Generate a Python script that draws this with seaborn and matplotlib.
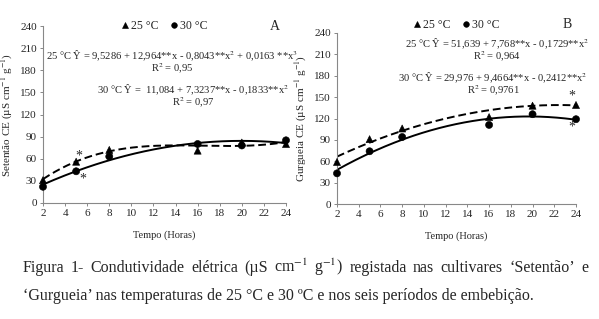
import numpy as np
import pandas as pd
import matplotlib
matplotlib.use('Agg')
import matplotlib.pyplot as plt
from matplotlib import font_manager
import seaborn as sns

# dados
horas = [2, 5, 8, 16, 20, 24]
setentao_25 = [31, 56, 72, 71, 82, 80]
setentao_30 = [22, 43, 63, 80, 78, 85]
gurgueia_25 = [59, 91, 106, 122, 138, 139]
gurgueia_30 = [43, 74, 94, 111, 126, 119]

# coeficientes das regressões (a0, a1, a2, a3)
coef_setentao_25 = [9.5286, 12.964, -0.8043, 0.0163]
coef_setentao_30 = [11.084, 7.3237, -0.1833]
coef_gurgueia_25 = [51.639, 7.768, -0.1729]
coef_gurgueia_30 = [29.976, 9.4664, -0.2412]

temperaturas = ['25 °C', '30 °C']
yticks = [0, 30, 60, 90, 120, 150, 180, 210, 240]
xticks = list(range(2, 25, 2))

# procura uma fonte tipo Times instalada
serif = 'DejaVu Serif'
for p in font_manager.findSystemFonts():
    if 'LiberationSerif-Regular' in p:
        font_manager.fontManager.addfont(p)
        serif = font_manager.FontProperties(fname=p).get_name()
        break

sns.set_style('ticks')
plt.rcParams['font.family'] = [serif, 'DejaVu Serif']
plt.rcParams['mathtext.fontset'] = 'stix'

W, H = 599, 319
fig = plt.figure(figsize=(W / 100, H / 100), dpi=100)


def add_ax(left, right, top, bottom):
    return fig.add_axes([left / W, (H - bottom) / H, (right - left) / W, (bottom - top) / H])


def painel(ax, y25, y30, c25, c30, ylabel, letra, leg_xy, letra_xy):
    df = pd.DataFrame({
        'Horas': horas * 2,
        'CE': y25 + y30,
        'Temperatura': [temperaturas[0]] * 6 + [temperaturas[1]] * 6,
    })
    sns.scatterplot(data=df, x='Horas', y='CE', style='Temperatura',
                    markers={'25 °C': '^', '30 °C': 'o'}, color='black',
                    s=26, edgecolor='black', ax=ax, clip_on=False, zorder=3)
    xs = np.linspace(2, 24, 200)
    curvas = pd.DataFrame({
        'Horas': np.concatenate([xs, xs]),
        'CE': np.concatenate([np.polynomial.polynomial.polyval(xs, c25),
                              np.polynomial.polynomial.polyval(xs, c30)]),
        'Temperatura': ['25 °C'] * len(xs) + ['30 °C'] * len(xs),
    })
    sns.lineplot(data=curvas, x='Horas', y='CE', style='Temperatura',
                 dashes={'25 °C': (4, 2), '30 °C': ''}, color='black',
                 linewidth=1.4, ax=ax, legend=False)
    ax.set_xlim(2, 24)
    ax.set_ylim(0, 240)
    ax.set_xticks(xticks)
    ax.set_yticks(yticks)
    ax.tick_params(labelsize=8, length=2.5, width=0.7, color='#888888', pad=2)
    for s in ['top', 'right']:
        ax.spines[s].set_visible(False)
    for s in ['left', 'bottom']:
        ax.spines[s].set_color('#888888')
        ax.spines[s].set_linewidth(0.8)
    ax.set_xlabel('Tempo (Horas)', fontsize=7.5, labelpad=9)
    ax.set_ylabel(ylabel, fontsize=8, labelpad=4)
    h, l = ax.get_legend_handles_labels()
    ax.legend(h, l, ncol=2, frameon=False, fontsize=8.5, loc='center',
              bbox_to_anchor=(leg_xy[0] / W, 1 - leg_xy[1] / H),
              bbox_transform=fig.transFigure, handlelength=0.8,
              handletextpad=0.1, columnspacing=0.9, markerscale=0.8)
    fig.text(letra_xy[0] / W, 1 - letra_xy[1] / H, letra, fontsize=10,
             ha='center', va='center')


axA = add_ax(43, 286, 26, 203)
painel(axA, setentao_25, setentao_30, coef_setentao_25, coef_setentao_30,
       'Setentão CE (µS cm$^{-1}$ g$^{-1}$)', 'A', (164, 26), (275, 26))
axB = add_ax(337, 576, 33, 204)
painel(axB, gurgueia_25, gurgueia_30, coef_gurgueia_25, coef_gurgueia_30,
       'Gurgueia CE (µS cm$^{-1}$ g$^{-1}$)', 'B', (456, 25), (567, 25))

# equações
eq = dict(fontsize=7.6, ha='center', va='center')
fig.text(172 / W, 1 - 56 / H, '25 °C Ŷ = 9,5286 + 12,964**x - 0,8043**x$^2$ + 0,0163 **x$^3$', **eq)
fig.text(172 / W, 1 - 69 / H, 'R$^2$ = 0,95', **eq)
fig.text(193 / W, 1 - 90 / H, '30 °C Ŷ =  11,084 + 7,3237**x - 0,1833**x$^2$', **eq)
fig.text(193 / W, 1 - 103 / H, 'R$^2$ = 0,97', **eq)
fig.text(497 / W, 1 - 44 / H, '25 °C Ŷ = 51,639 + 7,768**x - 0,1729**x$^2$', **eq)
fig.text(497 / W, 1 - 57 / H, 'R$^2$ = 0,964', **eq)
fig.text(493 / W, 1 - 78 / H, '30 °C Ŷ = 29,976 + 9,4664**x - 0,2412**x$^2$', **eq)
fig.text(493 / W, 1 - 91 / H, 'R$^2$ = 0,9761', **eq)

# asteriscos de significância
ast = dict(fontsize=10, ha='center', va='center')
axA.text(5.2, 64, '*', **ast)
axA.text(5.6, 33, '*', **ast)
axB.text(23.6, 151, '*', **ast)
axB.text(23.6, 108, '*', **ast)

# legenda da figura (linha 1 justificada)
linha1 = ['Figura', '1-', 'Condutividade', 'elétrica', '(µS', 'cm$^{-1}$', 'g$^{-1}$)',
          'registada', 'nas', 'cultivares', '‘Setentão’', 'e']
linha2 = '‘Gurgueia’ nas temperaturas de 25 °C e 30 ºC e nos seis períodos de embebição.'
cap = dict(fontsize=11.5, va='baseline', ha='left')
objs = [fig.text(0, 1 - 272 / H, w, **cap) for w in linha1]
fig.canvas.draw()
r = fig.canvas.get_renderer()
larg = [t.get_window_extent(r).width for t in objs]
x0, x1 = 23, 588
gap = (x1 - x0 - sum(larg)) / (len(objs) - 1)
x = x0
for t, w in zip(objs, larg):
    t.set_x(x / W)
    x += w + gap
fig.text(x0 / W, 1 - 300 / H, linha2, **cap)

fig.savefig('out.png', dpi=100)
